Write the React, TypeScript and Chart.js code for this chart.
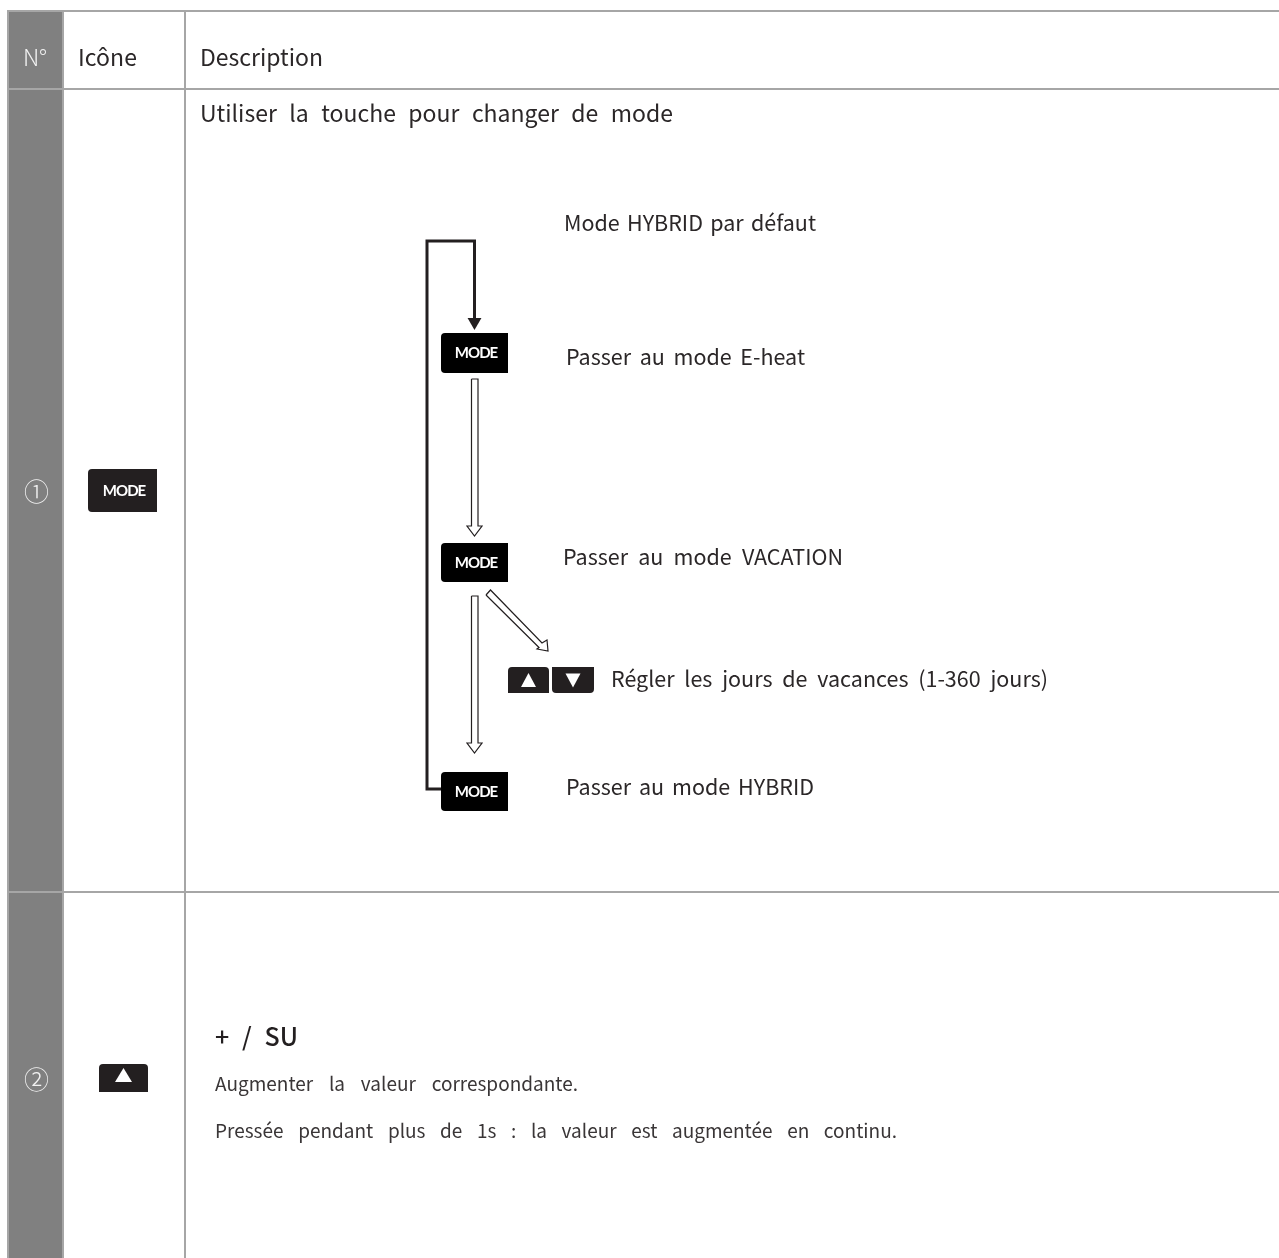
import React, { useEffect, useRef } from "react";
import { Chart, registerables } from "chart.js";

Chart.register(...registerables);

const WIDTH = 1279;
const HEIGHT = 1258;

// table structure
const columnEdges = [8, 63, 185];
const rowEdges = [11, 89, 892];

// labels: text, x, baseline, right edge, font size, colour, weight
const cellLabels: [string, number, number, number, number, string, number][] = [
  ["N°", 23, 66, 47, 23, "#f2f2f2", 300],
  ["Icône", 78, 66, 137, 23, "#2b2728", 400],
  ["Description", 200, 66, 323, 23, "#2b2728", 400],
  ["Utiliser la touche pour changer de mode", 200, 122, 673, 23, "#2b2728", 400],
  ["Mode HYBRID par défaut", 564, 231, 816, 21.5, "#2b2728", 400],
  ["Passer au mode E-heat", 566, 365, 805, 21.5, "#2b2728", 400],
  ["Passer au mode VACATION", 563, 565, 843, 21.5, "#2b2728", 400],
  ["Régler les jours de vacances (1-360 jours)", 611, 687, 1048, 21.5, "#2b2728", 400],
  ["Passer au mode HYBRID", 566, 795, 814, 21.5, "#2b2728", 400],
  ["+ / SU", 215, 1046, 298, 25, "#231f20", 500],
  ["Augmenter la valeur correspondante.", 215, 1091, 578, 19, "#3a3637", 400],
  ["Pressée pendant plus de 1s : la valeur est augmentée en continu.", 215, 1138, 897, 19, "#3a3637", 400],
];

const rowNumbers: [string, number, number][] = [
  ["①", 36.5, 491],
  ["②", 36.5, 1079],
];

// keys: x0, y0, x1, y1, label font px
const modeKeys: [number, number, number, number, number][] = [
  [88, 469, 157, 512, 15],
  [441, 333, 508, 373, 15],
  [441, 543, 508, 582, 15],
  [441, 772, 508, 811, 15],
];
// keys: x0, y0, x1, y1, direction, glyph half-width, glyph centre y
const arrowKeys: [number, number, number, number, "up" | "down", number, number][] = [
  [99, 1064, 148, 1092, "up", 8.5, 1075],
  [508, 667, 549, 693, "up", 7.5, 680],
  [552, 667, 594, 693, "down", 7.5, 680.5],
];

// flow diagram paths
const loopPath = [
  { x: 441, y: 789 },
  { x: 427, y: 789 },
  { x: 427, y: 241 },
  { x: 474.5, y: 241 },
  { x: 474.5, y: 320 },
];
const loopHead = [{ x: 474.5, y: 322 }];
const hollowDownA = [
  { x: 471.5, y: 379 }, { x: 478, y: 379 }, { x: 478, y: 526 }, { x: 482, y: 526 },
  { x: 474.5, y: 536 }, { x: 467, y: 526 }, { x: 471.5, y: 526 }, { x: 471.5, y: 379 },
];
const hollowDownB = [
  { x: 471.5, y: 596 }, { x: 478, y: 596 }, { x: 478, y: 743 }, { x: 482, y: 743 },
  { x: 474.5, y: 753 }, { x: 467, y: 743 }, { x: 471.5, y: 743 }, { x: 471.5, y: 596 },
];
const hollowDiagonal = [
  { x: 486, y: 595 }, { x: 490.5, y: 590 }, { x: 542, y: 643 }, { x: 547, y: 640 },
  { x: 548, y: 651 }, { x: 537, y: 649 }, { x: 539, y: 647.5 }, { x: 486, y: 595 },
];

const FONT = '"Noto Sans CJK KR", "Noto Sans", sans-serif';

function roundedPath(
  ctx: CanvasRenderingContext2D, x0: number, y0: number, x1: number, y1: number,
  radii: [number, number, number, number],
) {
  ctx.beginPath();
  ctx.roundRect(x0, y0, x1 - x0, y1 - y0, radii);
}

const diagramPlugin = {
  id: "diagram",
  afterDatasetsDraw(chart: any) {
    const { ctx, scales } = chart;
    const px = (v: number) => scales.x.getPixelForValue(v);
    const py = (v: number) => scales.y.getPixelForValue(v);
    const c = ctx as any;
    ctx.save();
    ctx.textBaseline = "alphabetic";
    ctx.textAlign = "left";

    for (const [text, x, y, right, size, color, weight] of cellLabels) {
      ctx.font = `${weight} ${size}px ${FONT}`;
      ctx.fillStyle = color;
      c.wordSpacing = "0px";
      const natural = ctx.measureText(text).width;
      const gaps = (text.match(/ /g) || []).length;
      const target = px(right) - px(x);
      if (gaps > 0) {
        c.wordSpacing = `${(target - natural) / gaps}px`;
      } else {
        c.letterSpacing = `${(target - natural) / text.length}px`;
      }
      ctx.fillText(text, px(x), py(y));
      c.wordSpacing = "0px";
      c.letterSpacing = "0px";
    }

    ctx.font = `300 25px ${FONT}`;
    ctx.fillStyle = "#f2f2f2";
    ctx.textAlign = "center";
    ctx.textBaseline = "middle";
    for (const [text, x, y] of rowNumbers) {
      ctx.fillText(text, px(x), py(y));
    }

    for (const [x0, y0, x1, y1, size] of modeKeys) {
      ctx.fillStyle = x0 < 100 ? "#231f20" : "#000000";
      roundedPath(ctx, px(x0), py(y0), px(x1), py(y1), [4, 0, 0, 4]);
      ctx.fill();
      ctx.fillStyle = "#ffffff";
      ctx.font = `700 ${size}px Lato, sans-serif`;
      c.letterSpacing = "-1px";
      ctx.fillText("MODE", px((x0 + x1) / 2 + 1.5), py((y0 + y1) / 2 + 0.5));
      c.letterSpacing = "0px";
    }

    for (const [x0, y0, x1, y1, dir, halfWidth, cy] of arrowKeys) {
      ctx.fillStyle = "#231f20";
      const radii: [number, number, number, number] =
        dir === "up" ? [4, 4, 0, 0] : [0, 0, 4, 4];
      roundedPath(ctx, px(x0), py(y0), px(x1), py(y1), radii);
      ctx.fill();
      const cx = (x0 + x1) / 2;
      const halfHeight = 7;
      const sign = dir === "up" ? -1 : 1;
      ctx.fillStyle = "#ffffff";
      ctx.beginPath();
      ctx.moveTo(px(cx), py(cy + sign * halfHeight));
      ctx.lineTo(px(cx - halfWidth), py(cy - sign * halfHeight));
      ctx.lineTo(px(cx + halfWidth), py(cy - sign * halfHeight));
      ctx.closePath();
      ctx.fill();
    }
    ctx.restore();
  },
};

const ruleColor = "#a6a6a6";
const inkColor = "#231f20";

function ruleDataset(data: { x: number; y: number }[], order: number) {
  return {
    data,
    showLine: true,
    borderColor: ruleColor,
    borderWidth: 2,
    pointRadius: 0,
    tension: 0,
    order,
    borderCapStyle: "butt" as const,
  };
}

function pathDataset(data: { x: number; y: number }[], width: number) {
  return {
    data,
    showLine: true,
    borderColor: inkColor,
    borderWidth: width,
    pointRadius: 0,
    tension: 0,
    order: 1,
    borderJoinStyle: "miter" as const,
    borderCapStyle: "butt" as const,
  };
}

export default function App() {
  const ref = useRef<HTMLCanvasElement | null>(null);

  useEffect(() => {
    if (!ref.current) return;
    const datasets: any[] = [
      // grey number column
      {
        data: [
          { x: (columnEdges[0] + columnEdges[1]) / 2, y: rowEdges[0] },
          { x: (columnEdges[0] + columnEdges[1]) / 2, y: HEIGHT },
        ],
        showLine: true,
        borderColor: "#808080",
        borderWidth: columnEdges[1] - columnEdges[0],
        borderCapStyle: "butt",
        pointRadius: 0,
        order: 5,
      },
      ...columnEdges.map((x) => ruleDataset([{ x, y: rowEdges[0] - 1 }, { x, y: HEIGHT }], 3)),
      ...rowEdges.map((y) => ruleDataset([{ x: columnEdges[0] - 1, y }, { x: WIDTH, y }], 3)),
      pathDataset(loopPath, 3),
      {
        data: loopHead,
        showLine: false,
        pointStyle: "triangle",
        rotation: 180,
        pointRadius: 8,
        backgroundColor: inkColor,
        borderColor: inkColor,
        borderWidth: 0,
        order: 1,
      },
      pathDataset(hollowDownA, 1.2),
      pathDataset(hollowDownB, 1.2),
      pathDataset(hollowDiagonal, 1.2),
    ];
    const chart = new Chart(ref.current, {
      type: "scatter",
      data: { datasets },
      options: {
        animation: false,
        responsive: false,
        layout: { padding: 0, autoPadding: false },
        plugins: { legend: { display: false }, tooltip: { enabled: false }, title: { display: false } },
        scales: {
          x: { type: "linear", min: 0, max: WIDTH, display: false },
          y: { type: "linear", min: 0, max: HEIGHT, reverse: true, display: false },
        },
      },
      plugins: [diagramPlugin],
    });
    return () => chart.destroy();
  }, []);

  return (
    <div style={{ position: "absolute", left: 0, top: 0, width: WIDTH, height: HEIGHT, background: "#fff", overflow: "hidden" }}>
      <canvas ref={ref} width={WIDTH} height={HEIGHT} style={{ display: "block" }} />
    </div>
  );
}
